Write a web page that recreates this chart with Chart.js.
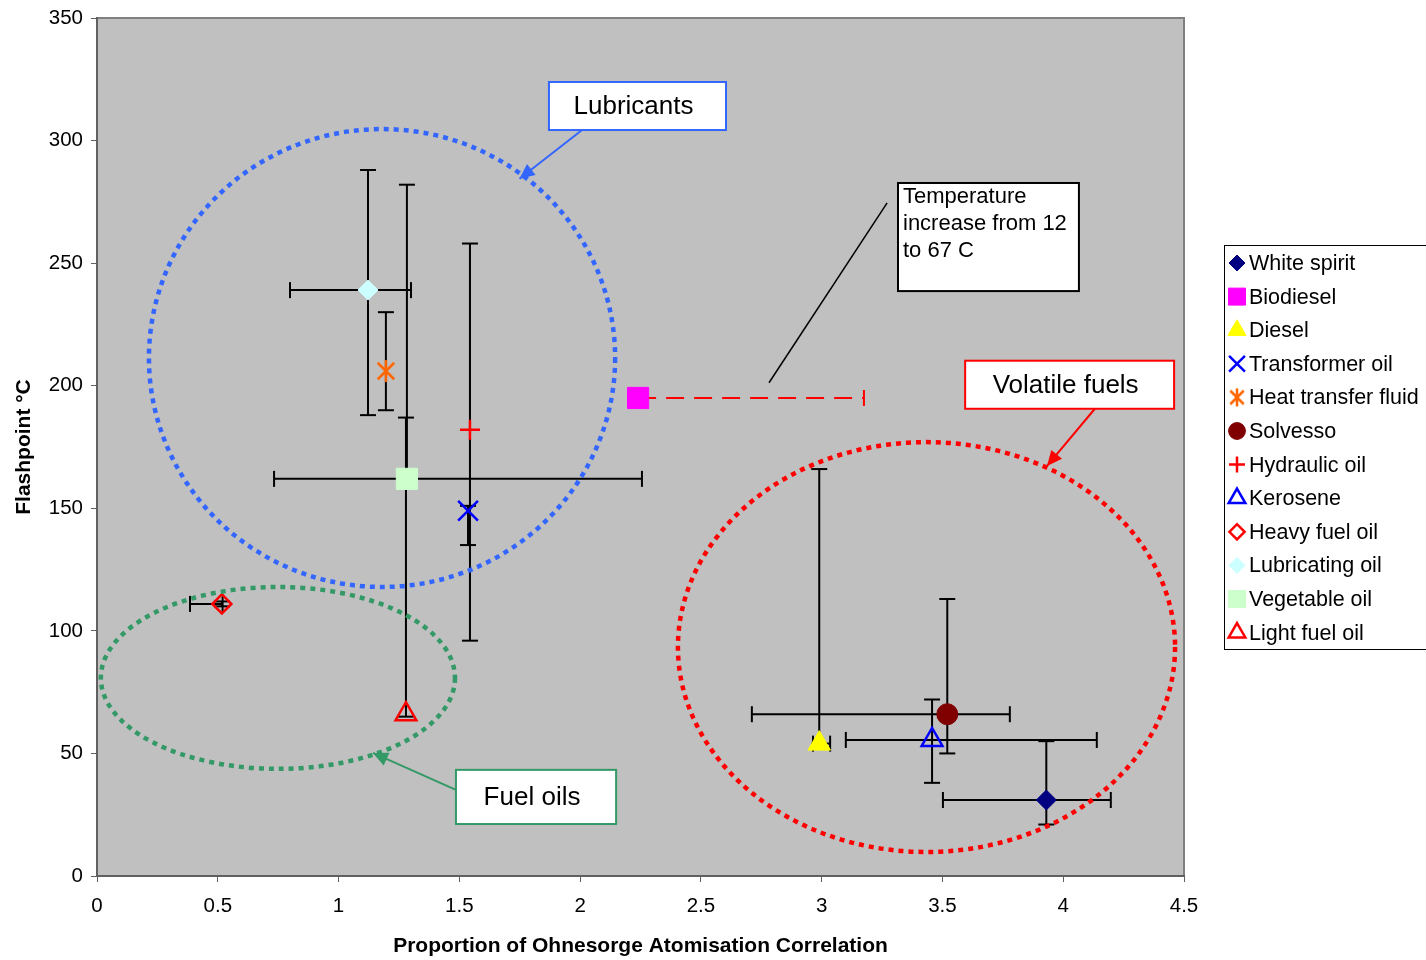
<!DOCTYPE html>
<html>
<head>
<meta charset="utf-8">
<script src="https://cdn.jsdelivr.net/npm/chart.js@4/dist/chart.umd.min.js"></script>
<style>
  html, body { margin: 0; padding: 0; background: #fff; }
  #wrap { width: 1426px; height: 960px; position: relative; }
</style>
</head>
<body>
<div id="wrap"><canvas id="chart" width="1426" height="960"></canvas></div>
<script>
// series data
const names = ['White spirit', 'Biodiesel', 'Diesel', 'Transformer oil', 'Heat transfer fluid', 'Solvesso',
               'Hydraulic oil', 'Kerosene', 'Heavy fuel oil', 'Lubricating oil', 'Vegetable oil', 'Light fuel oil'];
const xs    = [3.93, 2.24, 2.99, 1.536, 1.196, 3.52, 1.544, 3.457, 0.517, 1.122, 1.283, 1.279];
const ys    = [31, 195, 54, 149, 206, 66, 182, 55.5, 111, 239, 162, 66];
// error bar ranges (null = none)
const xLow  = [3.502, null, 2.964, null, null, 2.711, null, 3.100, 0.385, 0.799, 0.733, null];
const xHigh = [4.197, 3.175, 3.035, null, null, 3.779, null, 4.139, 0.52, 1.300, 2.256, null];
const yLow  = [21, null, 54, 135, 190, 50, 96, 38, 110, 188, 160, 65];
const yHigh = [55, null, 166, 151, 230, 113, 258, 72, 112, 288, 282, 187];
const yTicks = [0, 50, 100, 150, 200, 250, 300, 350];
const xTicks = [0, 0.5, 1, 1.5, 2, 2.5, 3, 3.5, 4, 4.5];

// Excel style asterisk: an X with a vertical stroke
function asterisk(size, color) {
  const c = document.createElement('canvas');
  c.width = size; c.height = size;
  const g = c.getContext('2d');
  const h = size / 2, r = size / 2 - 2;
  g.strokeStyle = color;
  g.lineWidth = 2.5;
  g.beginPath();
  g.moveTo(h - r * 0.75, h - r * 0.75); g.lineTo(h + r * 0.75, h + r * 0.75);
  g.moveTo(h + r * 0.75, h - r * 0.75); g.lineTo(h - r * 0.75, h + r * 0.75);
  g.moveTo(h, h - r); g.lineTo(h, h + r);
  g.stroke();
  return c;
}
const starBig = asterisk(26, '#ff6600');
const starSmall = asterisk(22, '#ff6600');

// marker styles
const pStyle  = ['rectRot', 'rect', 'triangle', 'crossRot', starBig, 'circle', 'cross', 'triangle', 'rectRot', 'rectRot', 'rect', 'triangle'];
const pFill   = ['#000080', '#ff00ff', '#ffff00', 'transparent', 'transparent', '#800000', 'transparent', 'transparent', 'transparent', '#ccffff', '#ccffcc', 'transparent'];
const pLine   = ['#000080', '#ff00ff', '#ffff00', '#0000ff', '#ff6600', '#800000', '#ff0000', '#0000ff', '#ff0000', '#ccffff', '#ccffcc', '#ff0000'];
const pRadius = [10, 15, 13, 14, 12, 10.5, 10, 12, 9.5, 10, 15, 12];
const pBorder = [1, 1, 1, 2.5, 2.5, 1, 2.5, 2.5, 2.5, 1, 1, 2.5];

// annotation shapes in data units
const ellipses = [
  { cx: 1.18, cy: 211.3, rx: 0.965, ry: 93.4, color: '#3366ff' },
  { cx: 0.749, cy: 80.8, rx: 0.733, ry: 37.1, color: '#339966' },
  { cx: 3.434, cy: 93.4, rx: 1.029, ry: 83.6, color: '#ff0000' }
];
const labelBoxes = [
  { x0: 1.871, y0: 323.9, x1: 2.604, y1: 304.3, text: ['Lubricants'], color: '#3366ff', size: 26, center: true,
    arrow: [2.008, 304.3, 1.749, 284.4] },
  { x0: 3.594, y0: 210.2, x1: 4.459, y1: 190.6, text: ['Volatile fuels'], color: '#ff0000', size: 26, center: true,
    arrow: [4.131, 190.6, 3.933, 167.3] },
  { x0: 1.486, y0: 43.3, x1: 2.149, y1: 21.2, text: ['Fuel oils'], color: '#339966', size: 26, center: true,
    arrow: [1.486, 35.1, 1.142, 50.2] },
  { x0: 3.316, y0: 282.7, x1: 4.065, y1: 238.6, text: ['Temperature', 'increase from 12', 'to 67 C'], color: '#000000', size: 22, center: false,
    line: [3.271, 274.6, 2.782, 201.2] }
];

const FONT = '"Liberation Sans", Arial, sans-serif';

const datasets = names.map((n, i) => ({
  label: n,
  data: [{ x: xs[i], y: ys[i] }],
  pointStyle: pStyle[i],
  pointRadius: pRadius[i],
  pointHoverRadius: pRadius[i],
  backgroundColor: pFill[i],
  borderColor: pLine[i],
  pointBorderWidth: pBorder[i],
  showLine: false
}));

const plotBg = {
  id: 'plotBg',
  beforeDraw(chart) {
    const { ctx, chartArea: a } = chart;
    ctx.save();
    ctx.fillStyle = '#c0c0c0';
    ctx.fillRect(a.left, a.top, a.right - a.left, a.bottom - a.top);
    ctx.strokeStyle = '#808080';
    ctx.lineWidth = 2;
    ctx.strokeRect(a.left, a.top, a.right - a.left, a.bottom - a.top);
    ctx.restore();
  }
};

function drawCap(ctx, x, y, horiz) {
  ctx.beginPath();
  if (horiz) { ctx.moveTo(x - 8, y); ctx.lineTo(x + 8, y); }
  else { ctx.moveTo(x, y - 8); ctx.lineTo(x, y + 8); }
  ctx.stroke();
}

const errorBars = {
  id: 'errorBars',
  beforeDatasetsDraw(chart) {
    const { ctx, scales: { x, y } } = chart;
    ctx.save();
    names.forEach((n, i) => {
      const px = x.getPixelForValue(xs[i]);
      const py = y.getPixelForValue(ys[i]);
      const dashed = i === 1;
      ctx.strokeStyle = dashed ? '#ff0000' : '#000000';
      ctx.lineWidth = 2;
      if (xLow[i] !== null || xHigh[i] !== null) {
        const lo = x.getPixelForValue(xLow[i] !== null ? xLow[i] : xs[i]);
        const hi = x.getPixelForValue(xHigh[i] !== null ? xHigh[i] : xs[i]);
        ctx.setLineDash(dashed ? [18, 10] : []);
        ctx.beginPath(); ctx.moveTo(lo, py); ctx.lineTo(hi, py); ctx.stroke();
        ctx.setLineDash([]);
        if (xLow[i] !== null) drawCap(ctx, lo, py, false);
        if (xHigh[i] !== null) drawCap(ctx, hi, py, false);
      }
      if (yLow[i] !== null) {
        const lo = y.getPixelForValue(yLow[i]);
        const hi = y.getPixelForValue(yHigh[i]);
        ctx.beginPath(); ctx.moveTo(px, lo); ctx.lineTo(px, hi); ctx.stroke();
        drawCap(ctx, px, lo, true);
        drawCap(ctx, px, hi, true);
      }
    });
    ctx.restore();
  }
};

function arrowHead(ctx, x0, y0, x1, y1, color) {
  const ang = Math.atan2(y1 - y0, x1 - x0);
  const len = 15, w = 7;
  ctx.fillStyle = color;
  ctx.beginPath();
  ctx.moveTo(x1, y1);
  ctx.lineTo(x1 - len * Math.cos(ang) + w * Math.sin(ang), y1 - len * Math.sin(ang) - w * Math.cos(ang));
  ctx.lineTo(x1 - len * Math.cos(ang) - w * Math.sin(ang), y1 - len * Math.sin(ang) + w * Math.cos(ang));
  ctx.closePath();
  ctx.fill();
}

const annotations = {
  id: 'annotations',
  afterDatasetsDraw(chart) {
    const { ctx, scales: { x, y } } = chart;
    ctx.save();
    // dotted ellipses
    ellipses.forEach(e => {
      const cx = x.getPixelForValue(e.cx), cy = y.getPixelForValue(e.cy);
      const rx = Math.abs(x.getPixelForValue(e.cx + e.rx) - cx);
      const ry = Math.abs(y.getPixelForValue(e.cy + e.ry) - cy);
      ctx.strokeStyle = e.color;
      ctx.lineWidth = 4.5;
      ctx.setLineDash([5, 5]);
      ctx.beginPath();
      ctx.ellipse(cx, cy, rx, ry, 0, 0, Math.PI * 2);
      ctx.stroke();
    });
    ctx.setLineDash([]);
    // label boxes with arrows / pointer line
    labelBoxes.forEach(b => {
      const l = x.getPixelForValue(b.x0), t = y.getPixelForValue(b.y0);
      const r = x.getPixelForValue(b.x1), btm = y.getPixelForValue(b.y1);
      if (b.arrow) {
        const a0 = x.getPixelForValue(b.arrow[0]), a1 = y.getPixelForValue(b.arrow[1]);
        const a2 = x.getPixelForValue(b.arrow[2]), a3 = y.getPixelForValue(b.arrow[3]);
        ctx.strokeStyle = b.color;
        ctx.lineWidth = 2;
        ctx.beginPath(); ctx.moveTo(a0, a1); ctx.lineTo(a2, a3); ctx.stroke();
        arrowHead(ctx, a0, a1, a2, a3, b.color);
      }
      if (b.line) {
        ctx.strokeStyle = '#000';
        ctx.lineWidth = 1.5;
        ctx.beginPath();
        ctx.moveTo(x.getPixelForValue(b.line[0]), y.getPixelForValue(b.line[1]));
        ctx.lineTo(x.getPixelForValue(b.line[2]), y.getPixelForValue(b.line[3]));
        ctx.stroke();
      }
      ctx.fillStyle = '#ffffff';
      ctx.fillRect(l, t, r - l, btm - t);
      ctx.strokeStyle = b.color;
      ctx.lineWidth = 2;
      ctx.strokeRect(l, t, r - l, btm - t);
      ctx.fillStyle = '#000';
      ctx.font = b.size + 'px ' + FONT;
      if (b.center) {
        ctx.textAlign = 'center';
        ctx.textBaseline = 'middle';
        ctx.fillText(b.text[0], (l + r) / 2 - 4, (t + btm) / 2 + 1);
      } else {
        ctx.textAlign = 'left';
        ctx.textBaseline = 'top';
        b.text.forEach((s, k) => ctx.fillText(s, l + 5, t + 3 + k * 27));
      }
    });
    ctx.restore();
  }
};

const boxLegend = {
  id: 'boxLegend',
  afterDraw(chart) {
    const ctx = chart.ctx;
    const left = 1224, top = 245, right = 1426, rowH = 33.6;
    ctx.save();
    ctx.fillStyle = '#ffffff';
    ctx.fillRect(left, top, right - left, 404);
    ctx.strokeStyle = '#000';
    ctx.lineWidth = 1;
    ctx.strokeRect(left + 0.5, top + 0.5, right - left, 404);
    ctx.font = '21.5px ' + FONT;
    ctx.textBaseline = 'middle';
    ctx.textAlign = 'left';
    names.forEach((n, i) => {
      const cy = top + 18 + i * rowH;
      ctx.fillStyle = pFill[i];
      ctx.strokeStyle = pLine[i];
      ctx.lineWidth = pBorder[i];
      const style = i === 4 ? starSmall : pStyle[i];
      Chart.helpers.drawPoint(ctx, { pointStyle: style, radius: pRadius[i] * 0.8, rotation: 0, borderWidth: pBorder[i] }, 1237, cy);
      ctx.fillStyle = '#000';
      ctx.fillText(n, 1249, cy + 1);
    });
    ctx.restore();
  }
};

new Chart(document.getElementById('chart'), {
  type: 'scatter',
  data: { datasets: datasets },
  options: {
    responsive: false,
    animation: false,
    layout: { padding: { top: 18, right: 242, left: 8, bottom: 0 } },
    plugins: {
      legend: { display: false },
      tooltip: { enabled: false }
    },
    scales: {
      x: {
        type: 'linear',
        min: 0, max: 4.5,
        afterBuildTicks: s => { s.ticks = xTicks.map(v => ({ value: v })); },
        afterFit: s => { s.height = 84; s.paddingLeft = 0; s.paddingRight = 0; },
        ticks: { color: '#000', font: { family: FONT, size: 20.5 }, padding: 12, maxRotation: 0, callback: v => String(v) },
        grid: { display: true, drawOnChartArea: false, color: '#606060', tickLength: 6 },
        border: { display: true, color: '#606060', width: 2 },
        title: { display: true, text: 'Proportion of Ohnesorge Atomisation Correlation', color: '#000',
                 font: { family: FONT, size: 21, weight: 'bold' }, padding: { top: 0, bottom: 1 } }
      },
      y: {
        type: 'linear',
        min: 0, max: 350,
        afterBuildTicks: s => { s.ticks = yTicks.map(v => ({ value: v })); },
        afterFit: s => { s.width = 89; s.paddingTop = 0; s.paddingBottom = 0; },
        ticks: { color: '#000', font: { family: FONT, size: 20.5 }, padding: 8 },
        grid: { display: true, drawOnChartArea: false, color: '#606060', tickLength: 6 },
        border: { display: true, color: '#606060', width: 2 },
        title: { display: true, text: 'Flashpoint °C', color: '#000',
                 font: { family: FONT, size: 21, weight: 'bold' }, padding: { bottom: 10 } }
      }
    }
  },
  plugins: [plotBg, errorBars, annotations, boxLegend]
});
</script>
</body>
</html>
